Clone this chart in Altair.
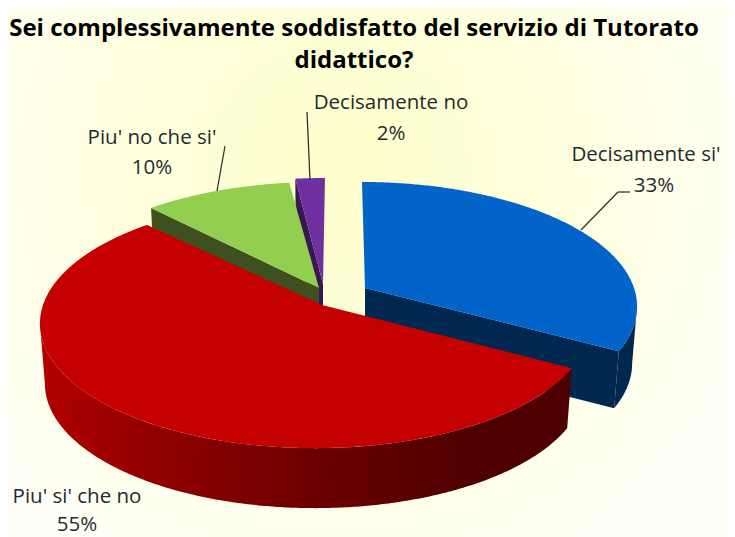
import math
import altair as alt

# ---- data ----
categories = ["Decisamente si'", "Piu' si' che no", "Piu' no che si'", "Decisamente no"]
shares = [33, 55, 10, 2]
top_colors = ["#0263C8", "#C40000", "#92CE50", "#7030A0"]
wall_colors = ["#002850", "#6B0000", "#3F5020", "#381850"]
# page pixel layout of each exploded slice: centre of the rim, and the tip
rim_x = [362, 315, 319, 325]
tip_x = [365, 322, 319, 323]
tip_y = [288, 305, 288, 284]
depths = [57, 60, 58, 58]

title_lines = ["Sei complessivamente soddisfatto del servizio di Tutorato", "didattico?"]
label_names = ["Decisamente si'", "Piu' si' che no", "Piu' no che si'", "Decisamente no"]
label_pcts = ["33%", "55%", "10%", "2%"]
label_x = [646, 77, 152, 391]
pct_x = [654, 77, 152, 391]
label_y1 = [155, 497, 138, 103]
label_y2 = [186, 525, 168, 134]
leader_x1 = [581, 618, 225, 307]
leader_y1 = [230, 192, 146, 112]
leader_x2 = [618, 630, 217, 310]
leader_y2 = [192, 192, 191, 180]

W, H, M = 719, 529, 8           # drawing size; page margin
RX, RY, TILT = 272, 121.8, 0.149  # perspective ellipse
SHRINK = 0.982                  # extrusion
FONT = "Open Sans"


def rim(i, a):
    t = math.radians(a)
    u, v = math.cos(t), math.sin(t)
    w = 1 - TILT * v
    return rim_x[i] + RX * u / w, tip_y[i] + RY * v / w


def lower(i, p):
    return rim_x[i] + SHRINK * (p[0] - rim_x[i]), p[1] + depths[i]


def arc(i, a0, a1):
    n = max(8, int(abs(a1 - a0) * 2))
    return [rim(i, a0 + (a1 - a0) * k / n) for k in range(n + 1)]


def feature(points):
    ring = [[x - M, y - M] for x, y in points]
    ring.append(ring[0])
    return {"type": "Feature", "geometry": {"type": "Polygon", "coordinates": [ring]}, "properties": {}}


projection = dict(type="identity", scale=1, translate=[0, 0])


def shape(points, fill):
    return alt.Chart(alt.Data(values=[feature(points)])).mark_geoshape(
        fill=fill, stroke=None, strokeWidth=0
    ).project(**projection)


starts = []
c = -90.0
for s in shares:
    starts.append(c)
    c += 3.6 * s
ends = [a + 3.6 * s for a, s in zip(starts, shares)]

tops = []
rims = []
for i in range(4):
    r = arc(i, starts[i], ends[i])
    rims.append(r)
    tops.append([(tip_x[i], tip_y[i])] + r)

# angle at which the tilted rim is widest: the wall's silhouette starts there
TURN = math.degrees(math.asin(TILT))


def outer_wall(i, a0, a1):
    r = arc(i, a0, a1)
    return r + [lower(i, p) for p in reversed(r)]


def cut_wall(i, corner):
    tip = (tip_x[i], tip_y[i])
    return [tip, corner, lower(i, corner), (tip[0], tip[1] + depths[i])]


red_gradient = alt.LinearGradient(
    gradient="linear", x1=0, x2=1, y1=0, y2=0,
    stops=[
        alt.GradientStop(offset=0, color="#B20000"),
        alt.GradientStop(offset=0.2, color="#930000"),
        alt.GradientStop(offset=0.5, color="#6E0000"),
        alt.GradientStop(offset=0.8, color="#500000"),
        alt.GradientStop(offset=1, color="#4C0000"),
    ],
)

background = alt.Chart(alt.Data(values=[{"a": 0}])).mark_rect(
    fill=alt.RadialGradient(
        gradient="radial", x1=0.46, y1=0.36, r1=0, x2=0.46, y2=0.36, r2=0.62,
        stops=[
            alt.GradientStop(offset=0, color="#FFFFCC"),
            alt.GradientStop(offset=0.45, color="#FFFFDD"),
            alt.GradientStop(offset=1, color="#FFFFF6"),
        ],
    )
).encode(x=alt.value(0), x2=alt.value(W), y=alt.value(0), y2=alt.value(H))

layers = [
    background,
    shape(outer_wall(0, TURN, ends[0]), wall_colors[0]),
    shape(cut_wall(0, rims[0][-1]), wall_colors[0]),
    shape(tops[0], top_colors[0]),
    shape(cut_wall(3, rims[3][0]), wall_colors[3]),
    shape(tops[3], top_colors[3]),
    shape(cut_wall(2, rims[2][0]), wall_colors[2]),
    shape(tops[2], top_colors[2]),
    shape(outer_wall(1, starts[1], 180 - TURN), red_gradient),
    shape(tops[1], top_colors[1]),
]

leaders = alt.Chart(alt.Data(values=[
    {"x": a - M, "y": b - M, "x2": c - M, "y2": d - M}
    for a, b, c, d in zip(leader_x1, leader_y1, leader_x2, leader_y2)
])).mark_rule(color="#333333", strokeWidth=1.3).encode(
    x=alt.X("x:Q", scale=None), y=alt.Y("y:Q", scale=None),
    x2="x2:Q", y2="y2:Q",
)
layers.append(leaders)

label_rows = []
for n, p, x, px, y1, y2 in zip(label_names, label_pcts, label_x, pct_x, label_y1, label_y2):
    label_rows.append({"t": n, "x": x - M, "y": y1 - M})
    label_rows.append({"t": p, "x": px - M, "y": y2 - M})
labels = alt.Chart(alt.Data(values=label_rows)).mark_text(
    font=FONT, fontSize=20.5, color="#1F2A33", baseline="middle", align="center"
).encode(x=alt.X("x:Q", scale=None), y=alt.Y("y:Q", scale=None), text="t:N")
layers.append(labels)

title_rows = [
    {"t": title_lines[0], "x": 354 - M, "y": 29 - M},
    {"t": title_lines[1], "x": 354 - M, "y": 61 - M},
]
title = alt.Chart(alt.Data(values=title_rows)).mark_text(
    font=FONT, fontSize=24, fontWeight="bold", color="#000000", baseline="middle", align="center"
).encode(x=alt.X("x:Q", scale=None), y=alt.Y("y:Q", scale=None), text="t:N")
layers.append(title)

chart = alt.layer(*layers).properties(
    width=W, height=H, padding=0, autosize=alt.AutoSizeParams(type="none")
).configure_view(stroke=None)

chart.save("out.html", embed_options={"renderer": "svg", "actions": False})
